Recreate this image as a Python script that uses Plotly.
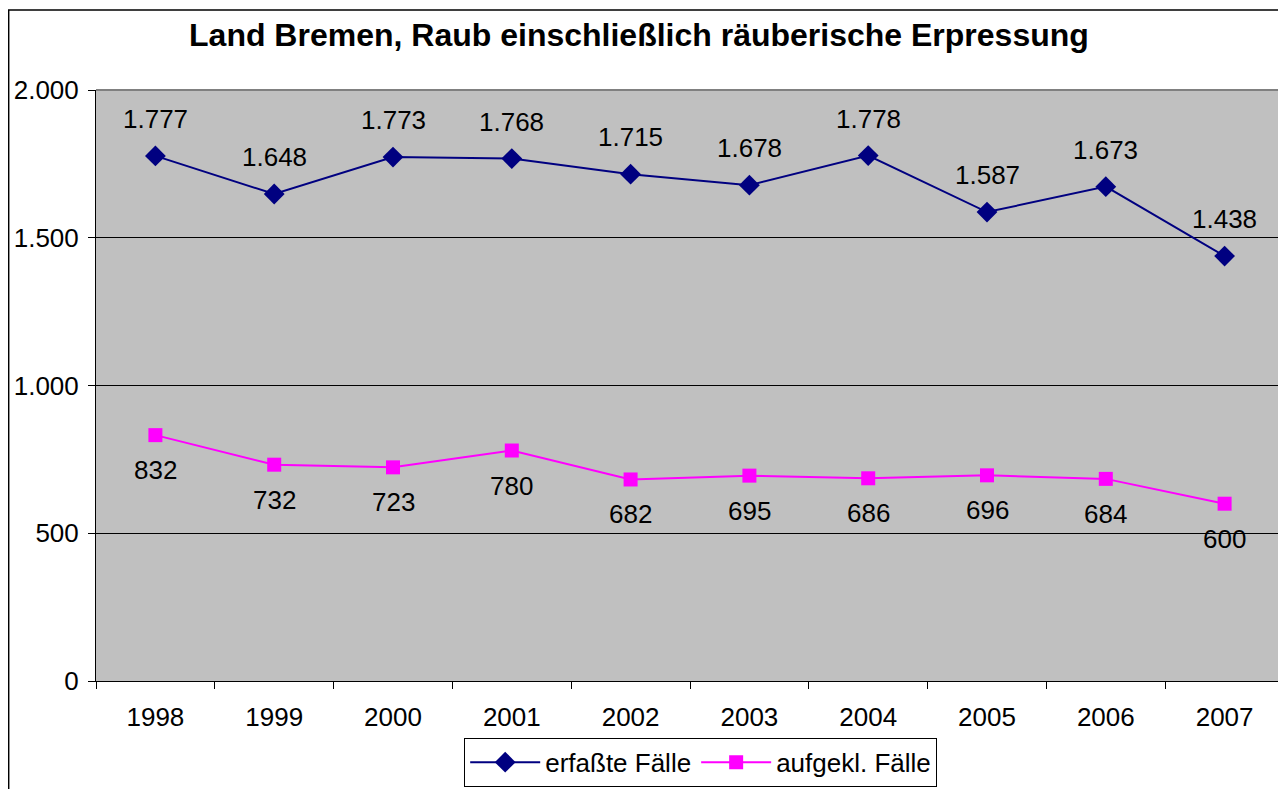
import plotly.graph_objects as go

years = ["1998", "1999", "2000", "2001", "2002", "2003", "2004", "2005", "2006", "2007"]
erfasst = [1777, 1648, 1773, 1768, 1715, 1678, 1778, 1587, 1673, 1438]
aufgeklaert = [832, 732, 723, 780, 682, 695, 686, 696, 684, 600]

def fmt(v):
    return f"{v:,}".replace(",", ".")

FONT = "Liberation Sans, Arial, sans-serif"
FS = 26

fig = go.Figure()
fig.add_trace(go.Scatter(
    x=years, y=erfasst, name="erfaßte Fälle", mode="lines+markers",
    line=dict(color="#000080", width=2),
    marker=dict(symbol="diamond", size=16, color="#000080"),
))
fig.add_trace(go.Scatter(
    x=years, y=aufgeklaert, name="aufgekl. Fälle", mode="lines+markers",
    line=dict(color="#FF00FF", width=2),
    marker=dict(symbol="square", size=14, color="#FF00FF"),
))

for i, y in enumerate(erfasst):
    fig.add_annotation(x=i, y=y, xref="x", yref="y", text=fmt(y), showarrow=False,
                       yshift=37, font=dict(size=FS, color="black", family=FONT))
for i, y in enumerate(aufgeklaert):
    fig.add_annotation(x=i, y=y, xref="x", yref="y", text=fmt(y), showarrow=False,
                       yshift=-35, font=dict(size=FS, color="black", family=FONT))

fig.update_layout(
    width=1278, height=781,
    margin=dict(l=88, r=2, t=82, b=105),
    paper_bgcolor="white", plot_bgcolor="#C0C0C0",
    separators=",.",
    font=dict(family=FONT, size=FS, color="black"),
    title=dict(text="<b>Land Bremen, Raub einschließlich räuberische Erpressung</b>",
               x=0.4937, xanchor="center", y=0.9654, yanchor="middle",
               font=dict(size=32, family=FONT, color="black")),
    showlegend=True,
    legend=dict(orientation="h", x=0.509, xanchor="center", y=-0.096, yanchor="top",
                bordercolor="black", borderwidth=1, bgcolor="white",
                font=dict(size=FS, family=FONT), tracegroupgap=0, itemwidth=70),
    xaxis=dict(type="category", tickson="boundaries", ticks="outside", ticklen=7,
               tickcolor="black", showline=True, linecolor="black", linewidth=1,
               showgrid=False, zeroline=False, tickfont=dict(size=FS),
               ticklabelstandoff=13, range=[-0.5, 9.5]),
    yaxis=dict(range=[0, 2000], tickvals=[0, 500, 1000, 1500, 2000], tickformat=",d",
               ticks="outside", ticklen=7, tickcolor="black", showline=True,
               linecolor="black", linewidth=1, showgrid=True, gridcolor="black",
               gridwidth=1, zeroline=False, tickfont=dict(size=FS),
               ticklabelstandoff=4),
    shapes=[
        dict(type="line", xref="paper", yref="paper", x0=0, x1=1, y0=1, y1=1,
             line=dict(color="#808080", width=2)),
        dict(type="rect", xref="paper", yref="paper", x0=-0.0735, x1=1.01,
             y0=-0.2, y1=1.1355, line=dict(color="black", width=1.5), layer="below"),
    ],
)

fig.write_html("out.html")
